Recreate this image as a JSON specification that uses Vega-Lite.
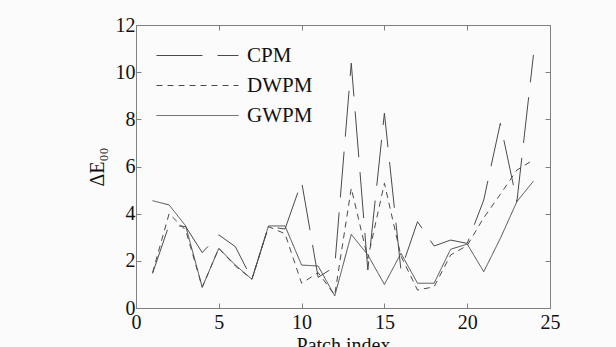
{
  "$schema": "https://vega.github.io/schema/vega-lite/v6.json",
  "width": 414,
  "height": 283,
  "autosize": "none",
  "padding": {"left": 136, "top": 25, "right": 66, "bottom": 39},
  "background": "#fbfbfb",
  "config": {
    "view": {"stroke": null},
    "font": "Liberation Serif",
    "axis": {
      "grid": false, "domain": true, "domainColor": "#808080", "domainWidth": 1,
      "tickSize": -5, "tickColor": "#808080", "labelFlush": false, "labelOverlap": false,
      "labelFont": "Liberation Serif", "labelFontSize": 20, "labelColor": "#111",
      "titleFont": "Liberation Serif", "titleFontSize": 20, "titleFontWeight": "normal", "titleColor": "#111"
    }
  },
  "data": {
    "values": [
      {"patch": 1, "method": "CPM", "v": 1.47}, {"patch": 2, "method": "CPM", "v": 3.52}, {"patch": 3, "method": "CPM", "v": 3.45},
      {"patch": 4, "method": "CPM", "v": 2.35}, {"patch": 5, "method": "CPM", "v": 3.1}, {"patch": 6, "method": "CPM", "v": 2.6},
      {"patch": 7, "method": "CPM", "v": 1.22}, {"patch": 8, "method": "CPM", "v": 3.45}, {"patch": 9, "method": "CPM", "v": 3.35},
      {"patch": 10, "method": "CPM", "v": 5.36}, {"patch": 11, "method": "CPM", "v": 1.3}, {"patch": 12, "method": "CPM", "v": 1.75},
      {"patch": 13, "method": "CPM", "v": 10.38}, {"patch": 14, "method": "CPM", "v": 1.61}, {"patch": 15, "method": "CPM", "v": 8.26},
      {"patch": 16, "method": "CPM", "v": 1.6}, {"patch": 17, "method": "CPM", "v": 3.66}, {"patch": 18, "method": "CPM", "v": 2.63},
      {"patch": 19, "method": "CPM", "v": 2.88}, {"patch": 20, "method": "CPM", "v": 2.74}, {"patch": 21, "method": "CPM", "v": 4.58},
      {"patch": 22, "method": "CPM", "v": 7.83}, {"patch": 23, "method": "CPM", "v": 4.51}, {"patch": 24, "method": "CPM", "v": 10.73},
      {"patch": 1, "method": "DWPM", "v": 1.5}, {"patch": 2, "method": "DWPM", "v": 4.0}, {"patch": 3, "method": "DWPM", "v": 3.3},
      {"patch": 4, "method": "DWPM", "v": 0.88}, {"patch": 5, "method": "DWPM", "v": 2.53}, {"patch": 6, "method": "DWPM", "v": 1.78},
      {"patch": 7, "method": "DWPM", "v": 1.22}, {"patch": 8, "method": "DWPM", "v": 3.45}, {"patch": 9, "method": "DWPM", "v": 3.15},
      {"patch": 10, "method": "DWPM", "v": 1.05}, {"patch": 11, "method": "DWPM", "v": 1.5}, {"patch": 12, "method": "DWPM", "v": 0.55},
      {"patch": 13, "method": "DWPM", "v": 5.08}, {"patch": 14, "method": "DWPM", "v": 2.1}, {"patch": 15, "method": "DWPM", "v": 5.29},
      {"patch": 16, "method": "DWPM", "v": 2.2}, {"patch": 17, "method": "DWPM", "v": 0.76}, {"patch": 18, "method": "DWPM", "v": 0.9},
      {"patch": 19, "method": "DWPM", "v": 2.25}, {"patch": 20, "method": "DWPM", "v": 2.65}, {"patch": 21, "method": "DWPM", "v": 3.83},
      {"patch": 22, "method": "DWPM", "v": 4.82}, {"patch": 23, "method": "DWPM", "v": 5.85}, {"patch": 24, "method": "DWPM", "v": 6.28},
      {"patch": 1, "method": "GWPM", "v": 4.55}, {"patch": 2, "method": "GWPM", "v": 4.37}, {"patch": 3, "method": "GWPM", "v": 3.48},
      {"patch": 4, "method": "GWPM", "v": 0.88}, {"patch": 5, "method": "GWPM", "v": 2.53}, {"patch": 6, "method": "GWPM", "v": 1.82},
      {"patch": 7, "method": "GWPM", "v": 1.22}, {"patch": 8, "method": "GWPM", "v": 3.48}, {"patch": 9, "method": "GWPM", "v": 3.48},
      {"patch": 10, "method": "GWPM", "v": 1.82}, {"patch": 11, "method": "GWPM", "v": 1.78}, {"patch": 12, "method": "GWPM", "v": 0.51},
      {"patch": 13, "method": "GWPM", "v": 3.12}, {"patch": 14, "method": "GWPM", "v": 2.25}, {"patch": 15, "method": "GWPM", "v": 1.0},
      {"patch": 16, "method": "GWPM", "v": 2.32}, {"patch": 17, "method": "GWPM", "v": 1.05}, {"patch": 18, "method": "GWPM", "v": 1.05},
      {"patch": 19, "method": "GWPM", "v": 2.49}, {"patch": 20, "method": "GWPM", "v": 2.71}, {"patch": 21, "method": "GWPM", "v": 1.54},
      {"patch": 22, "method": "GWPM", "v": 2.95}, {"patch": 23, "method": "GWPM", "v": 4.51}, {"patch": 24, "method": "GWPM", "v": 5.38}
    ]
  },
  "layer": [
    {
      "mark": {"type": "line", "strokeWidth": 1, "color": "#4a4a4a"},
      "encoding": {
        "x": {"field": "patch", "type": "quantitative", "scale": {"domain": [0, 25], "nice": false},
              "axis": {"values": [0, 5, 10, 15, 20, 25], "title": "Patch index", "titlePadding": 3, "labelPadding": 9}},
        "y": {"field": "v", "type": "quantitative", "scale": {"domain": [0, 12], "nice": false},
              "axis": {"values": [0, 2, 4, 6, 8, 10, 12], "title": "ΔE₀₀", "titlePadding": 8, "labelPadding": 6}},
        "strokeDash": {
          "field": "method", "type": "nominal",
          "scale": {"domain": ["CPM", "DWPM", "GWPM"], "range": [[46, 15], [6, 5], [1, 0]]},
          "legend": {
            "title": null, "orient": "none", "legendX": 51, "legendY": 20, "padding": 0,
            "symbolType": "M-4.1,0H4.1", "symbolSize": 400, "symbolStrokeWidth": 1, "symbolStrokeColor": "#4a4a4a",
            "labelFont": "Liberation Serif", "labelFontSize": 21, "labelColor": "#111", "labelOffset": 39, "rowPadding": 8,
            "fillColor": null, "strokeColor": null
          }
        }
      }
    },
    {
      "mark": {"type": "line", "opacity": 0},
      "encoding": {
        "x": {"field": "patch", "type": "quantitative", "axis": {"orient": "top", "values": [0, 5, 10, 15, 20, 25], "labels": false, "title": null}},
        "y": {"field": "v", "type": "quantitative", "axis": {"orient": "right", "values": [0, 2, 4, 6, 8, 10, 12], "labels": false, "title": null}},
        "detail": {"field": "method"}
      }
    }
  ],
  "resolve": {"axis": {"x": "independent", "y": "independent"}}
}
